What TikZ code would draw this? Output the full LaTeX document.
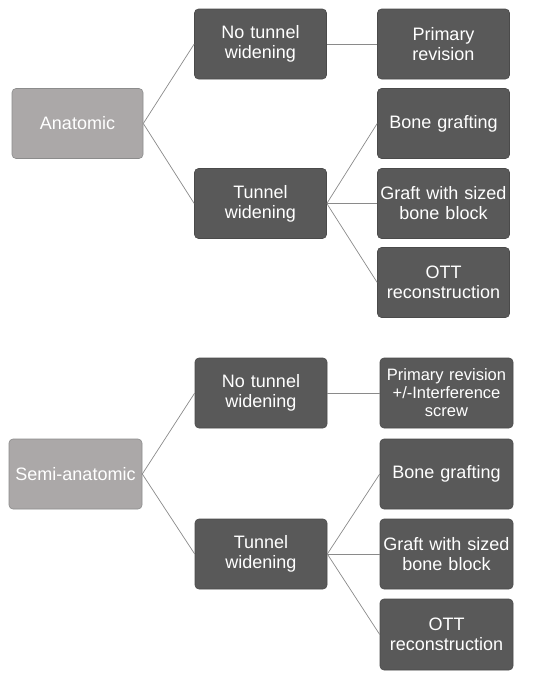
\documentclass[tikz,border=0pt]{standalone}
\usepackage{fontspec}
\setmainfont{Liberation Sans}
\definecolor{darkfill}{HTML}{595959}
\definecolor{darkline}{HTML}{4A4A4A}
\definecolor{lightfill}{HTML}{ABA8A8}
\definecolor{lightline}{HTML}{8C8C8C}
\definecolor{conn}{HTML}{8A8A8A}
\tikzset{
  box/.style={rectangle, rounded corners=4pt, inner sep=0pt, minimum width=132pt, minimum height=70pt,
    text width=130pt, align=center, text=white, line width=0.6pt,
    font=\fontsize{18}{20}\selectfont},
  darkbox/.style={box, fill=darkfill, draw=darkline},
  rootbox/.style={box, fill=lightfill, draw=lightline},
  small/.style={font=\fontsize{16.5}{18}\selectfont},
  link/.style={draw=conn, line width=0.7pt}
}
\begin{document}
\begin{tikzpicture}[x=1pt,y=-1pt]
\useasboundingbox (0,0) rectangle (552,680);
% top tree
\node[rootbox, minimum width=131pt] (a) at (77.5,123.5) {Anatomic};
\node[darkbox] (a1) at (260.5,44) {No tunnel\\widening};
\node[darkbox] (a2) at (260.5,203.5) {Tunnel\\widening};
\node[darkbox] (a11) at (443.5,44) {Primary\\revision};
\node[darkbox] (a21) at (443.5,123.5) {Bone grafting};
\node[darkbox] (a22) at (443.5,203.5) {Graft with sized\\bone block};
\node[darkbox] (a23) at (443.5,282.5) {OTT\\reconstruction};
\draw[link] (a.east) -- (a1.west);
\draw[link] (a.east) -- (a2.west);
\draw[link] (a1.east) -- (a11.west);
\draw[link] (a2.east) -- (a21.west);
\draw[link] (a2.east) -- (a22.west);
\draw[link] (a2.east) -- (a23.west);
% bottom tree
\node[rootbox, minimum width=133pt] (s) at (75.5,474) {Semi-anatomic};
\node[darkbox] (s1) at (261,393) {No tunnel\\widening};
\node[darkbox] (s2) at (261,554) {Tunnel\\widening};
\node[darkbox, minimum width=133pt, small] (s11) at (446.5,393) {Primary revision\\+/-Interference\\screw};
\node[darkbox, minimum width=133pt] (s21) at (446.5,474) {Bone grafting};
\node[darkbox, minimum width=133pt] (s22) at (446.5,554) {Graft with sized\\bone block};
\node[darkbox, minimum width=133pt, minimum height=71pt] (s23) at (446.5,634.5) {OTT\\reconstruction};
\draw[link] (s.east) -- (s1.west);
\draw[link] (s.east) -- (s2.west);
\draw[link] (s1.east) -- (s11.west);
\draw[link] (s2.east) -- (s21.west);
\draw[link] (s2.east) -- (s22.west);
\draw[link] (s2.east) -- (s23.west);
\end{tikzpicture}
\end{document}
